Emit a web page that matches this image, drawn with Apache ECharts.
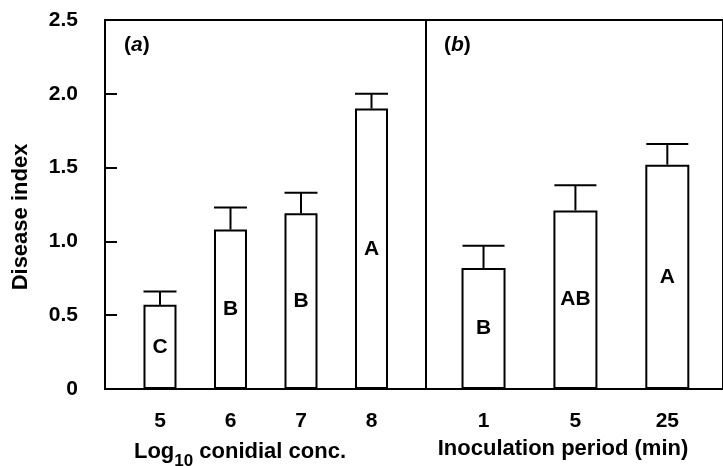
<!DOCTYPE html>
<html lang="en">
<head>
<meta charset="utf-8">
<title>Disease index</title>
<script src="https://cdn.jsdelivr.net/npm/echarts@6/dist/echarts.min.js"></script>
<style>
    html, body { margin: 0; padding: 0; background: #fff; }
    #chart { width: 723px; height: 466px; }
</style>
</head>
<body>
<div id="chart"></div>
<script type="text/javascript">
    // panel (a): log10 conidial concentration
    var concLabels = ['5', '6', '7', '8'];
    var concMeans = [0.57, 1.08, 1.19, 1.90];
    var concSE = [0.09, 0.15, 0.14, 0.10];
    var concLetters = ['C', 'B', 'B', 'A'];

    // panel (b): inoculation period (min)
    var periodLabels = ['1', '5', '25'];
    var periodMeans = [0.82, 1.21, 1.52];
    var periodSE = [0.15, 0.17, 0.14];
    var periodLetters = ['B', 'AB', 'A'];

    var FONT = "'Liberation Sans', Arial, sans-serif";
    var FS = 21;

    function barData(means) {
        return means.map(function (v, i) { return [i, v]; });
    }
    function errData(means, se) {
        return means.map(function (v, i) { return [i, v, se[i]]; });
    }
    function errRender(capHalf) {
        return function (params, api) {
            var x = api.value(0), m = api.value(1), se = api.value(2);
            var base = api.coord([x, m]);
            var top = api.coord([x, m + se]);
            var st = { stroke: '#000', lineWidth: 2 };
            return {
                type: 'group',
                children: [
                    { type: 'line', shape: { x1: base[0], y1: base[1], x2: top[0], y2: top[1] }, style: st },
                    { type: 'line', shape: { x1: top[0] - capHalf, y1: top[1], x2: top[0] + capHalf, y2: top[1] }, style: st }
                ]
            };
        };
    }

    var myChart = echarts.init(document.getElementById('chart'));
    var option = {
        animation: false,
        backgroundColor: '#fff',
        grid: [
            { left: 105, top: 20, width: 321, height: 369, show: true, borderColor: '#000', borderWidth: 2 },
            { left: 426, top: 20, width: 307, height: 369, show: true, borderColor: '#000', borderWidth: 2 }
        ],
        xAxis: [
            {
                gridIndex: 0, type: 'value', min: -0.78, max: 3.773,
                axisLine: { show: false, onZero: false }, axisTick: { show: false }, splitLine: { show: false },
                axisLabel: {
                    customValues: [0, 1, 2, 3], margin: 22,
                    formatter: function (v) { return concLabels[Math.round(v)]; },
                    color: '#000', fontSize: FS, fontWeight: 'bold', fontFamily: FONT
                }
            },
            {
                gridIndex: 1, type: 'value', min: -0.626, max: 2.606,
                axisLine: { show: false, onZero: false }, axisTick: { show: false }, splitLine: { show: false },
                axisLabel: {
                    customValues: [0, 1, 2], margin: 22,
                    formatter: function (v) { return periodLabels[Math.round(v)]; },
                    color: '#000', fontSize: FS, fontWeight: 'bold', fontFamily: FONT
                }
            }
        ],
        yAxis: [
            {
                gridIndex: 0, type: 'value', min: 0, max: 2.5, interval: 0.5,
                axisLine: { show: false, onZero: false }, splitLine: { show: false },
                axisTick: { show: true, inside: true, length: 12, lineStyle: { color: '#000', width: 2 } },
                axisLabel: {
                    margin: 27, padding: [8, 0, 0, 0],
                    formatter: function (v) { return v === 0 ? '0' : v.toFixed(1); },
                    color: '#000', fontSize: FS, fontWeight: 'bold', fontFamily: FONT
                }
            },
            {
                gridIndex: 1, type: 'value', min: 0, max: 2.5, interval: 0.5,
                axisLine: { show: false, onZero: false }, axisTick: { show: false },
                axisLabel: { show: false }, splitLine: { show: false }
            }
        ],
        series: [
            {
                type: 'bar', xAxisIndex: 0, yAxisIndex: 0, barWidth: 33,
                data: barData(concMeans),
                itemStyle: { color: '#fff', borderColor: '#000', borderWidth: 2 },
                label: {
                    show: true, position: 'inside',
                    formatter: function (p) { return concLetters[p.dataIndex]; },
                    color: '#000', fontSize: FS, fontWeight: 'bold', fontFamily: FONT
                }
            },
            {
                type: 'custom', xAxisIndex: 0, yAxisIndex: 0,
                data: errData(concMeans, concSE),
                renderItem: errRender(16.5), z: 3
            },
            {
                type: 'bar', xAxisIndex: 1, yAxisIndex: 1, barWidth: 44,
                data: barData(periodMeans),
                itemStyle: { color: '#fff', borderColor: '#000', borderWidth: 2 },
                label: {
                    show: true, position: 'inside',
                    formatter: function (p) { return periodLetters[p.dataIndex]; },
                    color: '#000', fontSize: FS, fontWeight: 'bold', fontFamily: FONT
                }
            },
            {
                type: 'custom', xAxisIndex: 1, yAxisIndex: 1,
                data: errData(periodMeans, periodSE),
                renderItem: errRender(21), z: 3
            }
        ],
        graphic: [
            {
                type: 'text', x: 21, y: 217, rotation: Math.PI / 2,
                style: {
                    text: 'Disease index', align: 'center', verticalAlign: 'middle',
                    fill: '#000', font: 'bold 22px ' + FONT
                }
            },
            {
                type: 'text', x: 240, y: 452,
                style: {
                    text: '{n|Log}{s|10}{n| conidial conc.}', align: 'center', verticalAlign: 'middle',
                    rich: {
                        n: { fill: '#000', fontSize: 22, fontWeight: 'bold', fontFamily: FONT },
                        s: { fill: '#000', fontSize: 17, fontWeight: 'bold', fontFamily: FONT, padding: [18, 0, 0, 0] }
                    }
                }
            },
            {
                type: 'text', x: 563, y: 449,
                style: {
                    text: 'Inoculation period (min)', align: 'center', verticalAlign: 'middle',
                    fill: '#000', font: 'bold 22px ' + FONT
                }
            },
            {
                type: 'text', x: 124, y: 45,
                style: {
                    text: '{n|(}{i|a}{n|)}', align: 'left', verticalAlign: 'middle',
                    rich: {
                        n: { fill: '#000', fontSize: FS, fontWeight: 'bold', fontFamily: FONT },
                        i: { fill: '#000', fontSize: FS, fontWeight: 'bold', fontStyle: 'italic', fontFamily: FONT }
                    }
                }
            },
            {
                type: 'text', x: 444, y: 45,
                style: {
                    text: '{n|(}{i|b}{n|)}', align: 'left', verticalAlign: 'middle',
                    rich: {
                        n: { fill: '#000', fontSize: FS, fontWeight: 'bold', fontFamily: FONT },
                        i: { fill: '#000', fontSize: FS, fontWeight: 'bold', fontStyle: 'italic', fontFamily: FONT }
                    }
                }
            }
        ]
    };
    myChart.setOption(option);
</script>
</body>
</html>
